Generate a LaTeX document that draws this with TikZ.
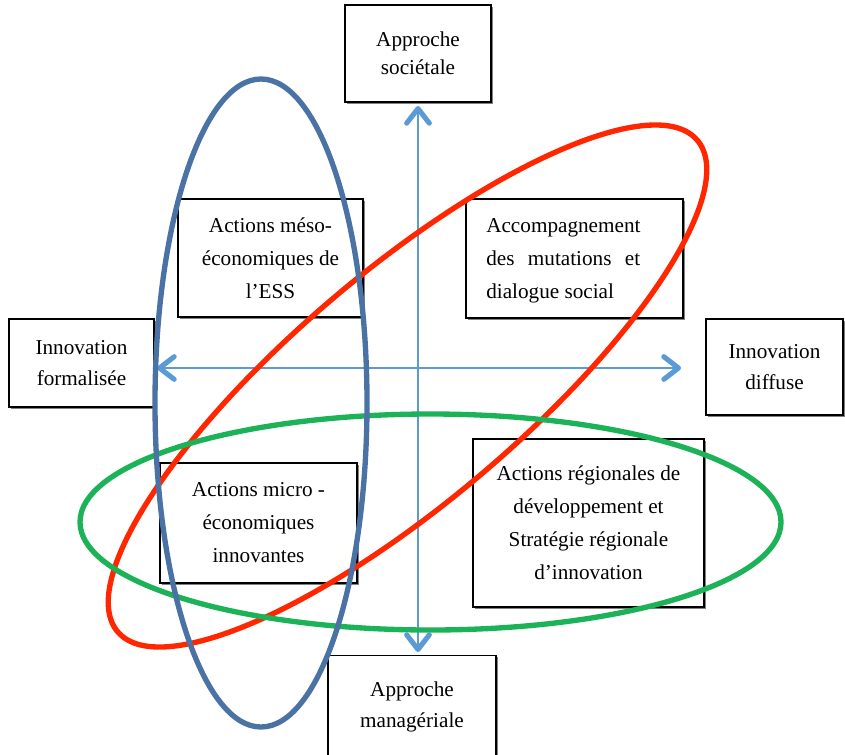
\documentclass[tikz,border=0pt]{standalone}
\usepackage{fontspec}
\setmainfont{Liberation Serif}
\usetikzlibrary{arrows.meta,shadows}
\definecolor{axisblue}{RGB}{91,155,213}
\definecolor{ovalblue}{RGB}{74,114,164}
\definecolor{ovalred}{RGB}{255,38,0}
\definecolor{ovalgreen}{RGB}{28,178,88}

\begin{document}
\begin{tikzpicture}[x=0.75pt,y=-0.75pt,
  box/.style={draw=black, line width=1.3pt, fill=white, inner sep=0pt,
    align=center, font=\fontsize{15.9}{23}\selectfont,
    drop shadow={shadow xshift=1.2pt, shadow yshift=-1.2pt, fill=black!50, opacity=1}},
  quad/.style={box, font=\fontsize{15.9}{24.75}\selectfont},
  label/.style={inner sep=0pt, font=\fontsize{15.9}{24.75}\selectfont, align=left},
  barb/.tip={Straight Barb[length=11pt,width=17pt,line width=3.8pt 0,round]},
  axis/.style={draw=axisblue, line width=1.8pt, barb-barb},
  oval/.style={line width=4pt}]

\useasboundingbox (0,0) rectangle (845,754);

% axes
\coordinate (hleft) at (157,368);
\coordinate (hright) at (681,368);
\coordinate (vtop) at (418,106);
\coordinate (vbottom) at (418,652);
\draw[axis] (vtop) -- (vbottom);
\draw[axis] (hleft) -- (hright);

% poles of the two axes
\node[box, font=\fontsize{15.9}{21}\selectfont, minimum width=109.5pt, minimum height=72.75pt]
  (soc) at (418,53.5) {Approche\\sociétale};
\node[box, minimum width=126pt, minimum height=77.25pt]
  (man) at (412,707) {Approche\\managériale};
\node[box, minimum width=108.75pt, minimum height=66pt]
  (form) at (81.5,363) {Innovation\\formalisée};
\node[box, minimum width=102.75pt, minimum height=72pt]
  (diff) at (774.5,367) {Innovation\\diffuse};

% quadrants
\node[quad, minimum width=138.75pt, minimum height=88.5pt]
  (meso) at (270.5,258) {Actions méso-\\économiques de\\l’ESS};
\node[quad, minimum width=162.75pt, minimum height=89.25pt]
  (acc) at (574.5,258.5) {};
\node[label, anchor=west] (acctext) at (486,261)
  {Accompagnement\\\makebox[115.5pt][s]{des mutations et}\\dialogue social};
\node[quad, minimum width=147.75pt, minimum height=90pt]
  (micro) at (258.5,523) {Actions micro -\\économiques\\innovantes};
\node[quad, minimum width=173.25pt, minimum height=126pt]
  (reg) at (588.5,523) {Actions régionales de\\développement et\\Stratégie régionale\\d’innovation};

% groupings
\draw[oval, ovalred, rotate around={40.3:(407.5,386)}]
  (407.5,386) ellipse [x radius=380, y radius=115];
\draw[oval, ovalgreen] (430.5,522) ellipse [x radius=350.5, y radius=108];
\draw[oval, ovalblue] (261,403) ellipse [x radius=106, y radius=324];

\end{tikzpicture}
\end{document}
